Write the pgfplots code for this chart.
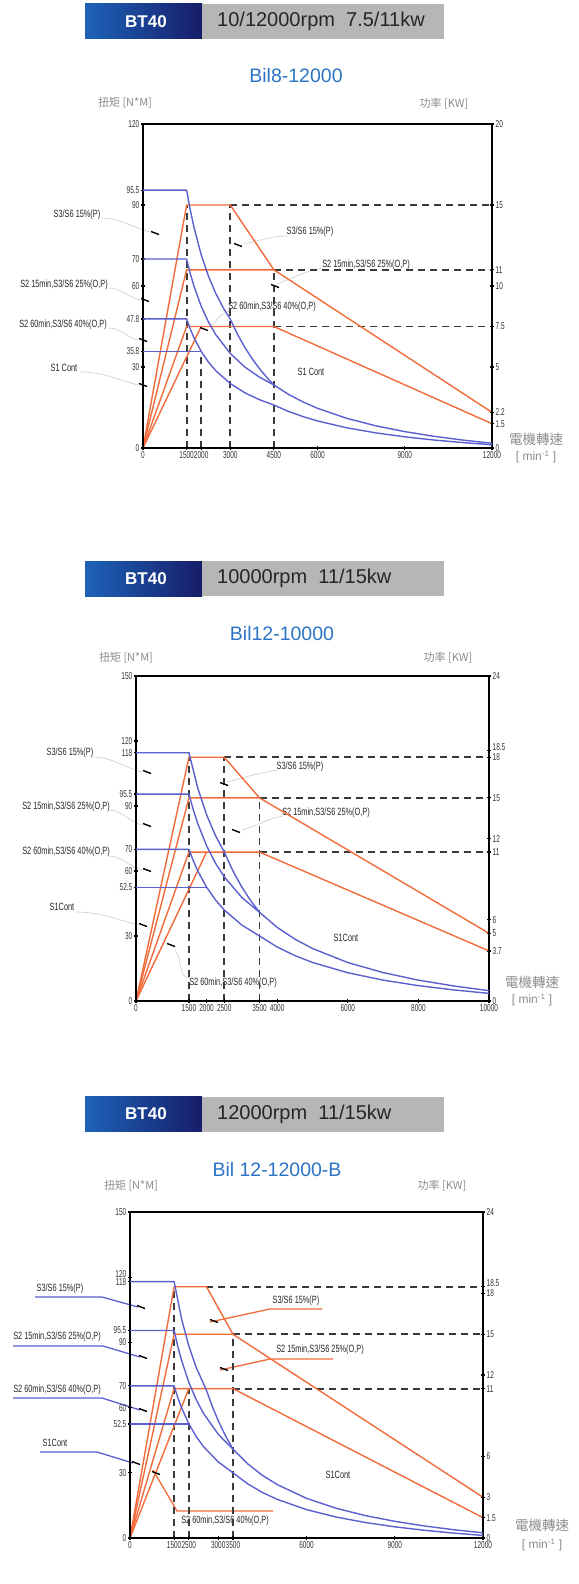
\documentclass[border=0pt]{standalone}
\usepackage{pgfplots}
\pgfplotsset{compat=1.18}
\usepackage{fontspec}
\setmainfont{Liberation Sans}
\newfontfamily\narrow[FakeStretch=0.7]{Liberation Sans}
\newfontfamily\narrowb[FakeStretch=0.65]{Liberation Sans}
\newfontfamily\cjk{Noto Sans CJK TC}
\definecolor{orng}{HTML}{F26B3A}
\definecolor{blu}{HTML}{5C60CF}
\definecolor{dsh}{HTML}{3A3A3A}
\definecolor{hblue}{HTML}{1D62B8}
\definecolor{hnavy}{HTML}{171D69}
\definecolor{hgray}{HTML}{B6B6B6}
\definecolor{ttl}{HTML}{2C74C5}
\definecolor{gtxt}{HTML}{8C8C8C}
\definecolor{lead}{HTML}{D2D2D2}
\newcommand\tickf{\narrowb\fontsize{10}{10}\selectfont}
\newcommand\labf{\narrow\fontsize{10.5}{10.5}\selectfont}
\pgfplotsset{
 base/.style={scale only axis, clip=false, scaled ticks=false,
   axis line style={black, line width=1.6pt},
   tick style={black, line width=1.2pt}, major tick length=4pt, tick align=center,
   ticklabel style={font=\tickf, text=black!80, inner sep=1.5pt},
   /pgf/number format/assume math mode=true},
 pw/.style={base, axis x line=none, axis y line*=right, ymin=0},
 tq/.style={base, tick pos=left, ymin=0},
 or/.style={orng, line width=1.4pt, line join=round},
 bl/.style={blu, line width=1.4pt, line join=round},
 ds/.style={dsh, line width=1.8pt, dash pattern=on 7pt off 5pt},
}
\newcommand\mk[2]{\draw[black, line width=1.4pt] (#1-4,#2-1.5) -- (#1+4,#2+1.5);}
\newcommand\lab[3]{\node[font=\labf, text=black!85, inner sep=0] at (#1,#2) {#3};}
\newcommand\header[3]{%
 \shade[left color=hblue, right color=hnavy] (85,#1-17.5) rectangle (202,#1+17.5);
 \fill[hgray] (202,#1-17.5) rectangle (444,#1+17.5);
 \node[white, font=\fontsize{17}{17}\selectfont\bfseries] at (146,#1) {BT40};
 \node[black!85, font=\fontsize{20}{20}\selectfont, anchor=west, inner sep=0] at (217,#1) {#3};}
\begin{document}
\begin{tikzpicture}
\useasboundingbox (0,0) rectangle (578pt,-1584pt);
\fill[white] (0,0) rectangle (578pt,-1584pt);
\begin{scope}[x=1pt,y=-1pt]
% ---------- panel 1 decorations
\header{21.5}{}{10/12000rpm\ \ 7.5/11kw}
\node[ttl, font=\fontsize{19.5}{19.5}\selectfont] at (296,76) {Bil8-12000};
\node[gtxt, font=\cjk\fontsize{11}{11}\selectfont] at (125,103) {扭矩 [N*M]};
\node[gtxt, font=\cjk\fontsize{11}{11}\selectfont] at (444,104) {功率 [KW]};
\node[gtxt, font=\cjk\fontsize{13.5}{13.5}\selectfont] at (536,439) {電機轉速};
\node[gtxt, font=\fontsize{12}{12}\selectfont] at (536,457) {[ min\textsuperscript{-1} ]};
\draw[lead, line width=0.7pt] (100,218) to[out=0,in=165] (150,232);
\draw[lead, line width=0.7pt] (108,288) to[out=0,in=165] (140,300);
\draw[lead, line width=0.7pt] (108,328) to[out=0,in=165] (138,340);
\draw[lead, line width=0.7pt] (80,372) to[out=0,in=165] (138,385);
\draw[lead, line width=0.7pt] (243,244) to[out=10,in=180] (288,236);
\draw[lead, line width=0.7pt] (277,284) to[out=20,in=190] (323,268);
\draw[lead, line width=0.7pt] (210,327) to[out=40,in=190] (230,311);
\lab{77}{215}{S3/S6 15\%(P)}
\lab{64}{285}{S2 15min,S3/S6 25\%(O,P)}
\lab{63}{325}{S2 60min,S3/S6 40\%(O,P)}
\lab{64}{368}{S1 Cont}
\lab{310}{232}{S3/S6 15\%(P)}
\lab{366}{265}{S2 15min,S3/S6 25\%(O,P)}
\lab{272}{307}{S2 60min,S3/S6 40\%(O,P)}
\lab{311}{372}{S1 Cont}
% ---------- panel 2 decorations
\header{578.5}{}{10000rpm\ \ 11/15kw}
\node[ttl, font=\fontsize{19.5}{19.5}\selectfont] at (282,634) {Bil12-10000};
\node[gtxt, font=\cjk\fontsize{11}{11}\selectfont] at (126,658) {扭矩 [N*M]};
\node[gtxt, font=\cjk\fontsize{11}{11}\selectfont] at (448,658) {功率 [KW]};
\node[gtxt, font=\cjk\fontsize{13.5}{13.5}\selectfont] at (532,982) {電機轉速};
\node[gtxt, font=\fontsize{12}{12}\selectfont] at (532,1000) {[ min\textsuperscript{-1} ]};
\draw[lead, line width=0.7pt] (92,757) to[out=0,in=165] (142,772);
\draw[lead, line width=0.7pt] (108,810) to[out=0,in=165] (142,825);
\draw[lead, line width=0.7pt] (108,856) to[out=0,in=165] (142,870);
\draw[lead, line width=0.7pt] (75,912) to[out=0,in=165] (138,925);
\draw[lead, line width=0.7pt] (227,782) to[out=15,in=190] (277,770);
\draw[lead, line width=0.7pt] (242,830) to[out=15,in=190] (283,816);
\draw[lead, line width=0.7pt] (175,950) to[out=-50,in=180] (190,978);
\lab{70}{753}{S3/S6 15\%(P)}
\lab{66}{807}{S2 15min,S3/S6 25\%(O,P)}
\lab{66}{852}{S2 60min,S3/S6 40\%(O,P)}
\lab{62}{907}{S1Cont}
\lab{300}{767}{S3/S6 15\%(P)}
\lab{326}{813}{S2 15min,S3/S6 25\%(O,P)}
\lab{233}{983}{S2 60min,S3/S6 40\%(O,P)}
\lab{346}{938}{S1Cont}
% ---------- panel 3 decorations
\header{1114}{}{12000rpm\ \ 11/15kw}
\node[ttl, font=\fontsize{19.5}{19.5}\selectfont] at (277,1170) {Bil 12-12000-B};
\node[gtxt, font=\cjk\fontsize{11}{11}\selectfont] at (131,1186) {扭矩 [N*M]};
\node[gtxt, font=\cjk\fontsize{11}{11}\selectfont] at (442,1186) {功率 [KW]};
\node[gtxt, font=\cjk\fontsize{13.5}{13.5}\selectfont] at (542,1525) {電機轉速};
\node[gtxt, font=\fontsize{12}{12}\selectfont] at (542,1545) {[ min\textsuperscript{-1} ]};
\draw[blu, line width=1.3pt] (35,1297) -- (102,1297) -- (138,1307);
\draw[blu, line width=1.3pt] (13,1346) -- (103,1346) -- (140,1357);
\draw[blu, line width=1.3pt] (13,1398) -- (102,1398) -- (140,1410);
\draw[blu, line width=1.3pt] (40,1452) -- (97,1452) -- (133,1463);
\draw[orng, line width=1.3pt] (210,1322) -- (270,1309) -- (322,1309);
\draw[orng, line width=1.3pt] (220,1370) -- (270,1359) -- (333,1359);
\draw[orng, line width=1.3pt] (153,1470) -- (177,1511) -- (273,1511);
\lab{60}{1289}{S3/S6 15\%(P)}
\lab{57}{1337}{S2 15min,S3/S6 25\%(O,P)}
\lab{57}{1390}{S2 60min,S3/S6 40\%(O,P)}
\lab{55}{1443}{S1Cont}
\lab{296}{1301}{S3/S6 15\%(P)}
\lab{320}{1350}{S2 15min,S3/S6 25\%(O,P)}
\lab{225}{1521}{S2 60min,S3/S6 40\%(O,P)}
\lab{338}{1475}{S1Cont}
\end{scope}
% ================= PANEL 1 =================
\begin{axis}[pw, at={(143pt,-448pt)}, anchor=south west, width=349pt, height=324pt,
  xmin=0, xmax=12000, ymax=20,
  ytick={0,1.5,2.2,5,7.5,10,11,15,20}, yticklabels={0,1.5,2.2,5,7.5,10,11,15,20}]
\addplot[ds] coordinates {(1500,0)(1500,15)};
\addplot[ds] coordinates {(2000,0)(2000,5.97)};
\addplot[ds] coordinates {(3000,0)(3000,15)};
\addplot[ds] coordinates {(4500,0)(4500,11)};
\addplot[ds] coordinates {(3000,15)(12000,15)};
\addplot[ds] coordinates {(4500,11)(12000,11)};
\addplot[ds] coordinates {(4500,7.5)(12000,7.5)};
\addplot[or] coordinates {(0,0)(1500,15)(3000,15)(4500,11)(12000,2.2)};
\addplot[or] coordinates {(0,0)(1500,11)(4500,11)};
\addplot[or] coordinates {(0,0)(1500,7.5)(4500,7.5)(12000,1.5)};
\addplot[or] coordinates {(0,0)(2000,7.5)};
\end{axis}
\begin{axis}[tq, at={(143pt,-448pt)}, anchor=south west, width=349pt, height=324pt,
  xmin=0, xmax=12000, ymax=120,
  xtick={0,1500,2000,3000,4500,6000,9000,12000}, xticklabels={0,1500,2000,3000,4500,6000,9000,12000},
  ytick={0,30,35.8,47.8,60,70,90,95.5,120}, yticklabels={0,30,35.8,47.8,60,70,90,95.5,120}]
\addplot[bl] coordinates {(0,95.5)(1500,95.5)(1625,88.15)(1750,81.86)(2000,71.63)(2250,63.67)(2500,57.30)(2750,52.09)(3000,47.75)(3250,42.12)(3500,37.29)(3750,33.11)(4000,29.45)(4250,26.22)(4500,23.34)(5000,19.89)(5500,17.06)(6000,14.71)(7000,11.01)(8000,8.23)(9000,6.07)(10000,4.34)(11000,2.93)(12000,1.75)};
\addplot[bl] coordinates {(0,70)(1500,70)(1625,64.64)(1750,60.03)(2000,52.53)(2250,46.69)(2500,42.02)(3000,35.02)(3500,30.01)(4000,26.26)(4500,23.34)};
\addplot[bl] coordinates {(0,47.8)(1500,47.8)(1625,44.08)(1750,40.93)(2000,35.81)(2250,31.83)(2500,28.65)(3000,23.88)(3500,20.46)(4000,17.91)(4500,15.92)(5000,13.56)(5500,11.63)(6000,10.03)(7000,7.50)(8000,5.61)(9000,4.14)(10000,2.96)(11000,2.00)(12000,1.19)};
\addplot[bl] coordinates {(0,35.8)(2000,35.8)};
\end{axis}
% ================= PANEL 2 =================
\begin{axis}[pw, at={(136pt,-1001pt)}, anchor=south west, width=353pt, height=325pt,
  xmin=0, xmax=10000, ymax=24,
  ytick={0,3.7,5,6,11,12,15,18,24}, yticklabels={0,3.7,5,6,11,12,15,18,24},
  extra y ticks={18.5}, extra y tick labels={18.5},
  extra y tick style={yticklabel style={yshift=3pt}}]
\addplot[ds] coordinates {(1500,0)(1500,18)};
\addplot[ds] coordinates {(2500,0)(2500,18)};
\addplot[ds] coordinates {(3500,0)(3500,15)};
\addplot[ds] coordinates {(2500,18)(10000,18)};
\addplot[ds] coordinates {(3500,15)(10000,15)};
\addplot[ds] coordinates {(3500,11)(10000,11)};
\addplot[or] coordinates {(0,0)(1500,18)(2500,18)(3500,15)(10000,5)};
\addplot[or] coordinates {(0,0)(1500,15)(3500,15)};
\addplot[or] coordinates {(0,0)(1500,11)(3500,11)(10000,3.7)};
\addplot[or] coordinates {(0,0)(2000,11)};
\end{axis}
\begin{axis}[tq, at={(136pt,-1001pt)}, anchor=south west, width=353pt, height=325pt,
  xmin=0, xmax=10000, ymax=150,
  xtick={0,1500,2000,2500,3500,4000,6000,8000,10000}, xticklabels={0,1500,2000,2500,3500,4000,6000,8000,10000},
  ytick={0,30,52.5,60,70,90,95.5,114.6,120,150}, yticklabels={0,30,52.5,60,70,90,95.5,118,120,150}]
\addplot[bl] coordinates {(0,114.6)(1500,114.6)(1750,98.23)(2000,85.95)(2250,76.40)(2500,68.76)(2750,59.90)(3000,52.53)(3250,46.28)(3500,40.93)(4000,33.98)(4500,28.57)(5000,24.24)(6000,17.75)(7000,13.12)(8000,9.64)(9000,6.94)(10000,4.78)};
\addplot[bl] coordinates {(0,95.5)(1500,95.5)(1625,88.15)(1750,81.86)(2000,71.63)(2250,63.67)(2500,57.30)(3000,47.75)(3500,40.93)};
\addplot[bl] coordinates {(0,70)(1500,70)(1625,64.64)(1750,60.03)(2000,52.53)(2250,46.69)(2500,42.02)(3000,35.02)(3500,30.01)(4000,24.92)(4500,20.96)(5000,17.79)(6000,13.04)(7000,9.64)(8000,7.10)(9000,5.12)(10000,3.53)};
\addplot[bl] coordinates {(0,52.5)(2000,52.5)};
\end{axis}
% ================= PANEL 3 =================
\begin{axis}[pw, at={(130pt,-1538pt)}, anchor=south west, width=353pt, height=326pt,
  xmin=0, xmax=12000, ymax=24,
  ytick={0,1.5,3,6,11,12,15,18,24}, yticklabels={0,1.5,3,6,11,12,15,18,24},
  extra y ticks={18.5}, extra y tick labels={18.5},
  extra y tick style={yticklabel style={yshift=3.5pt}}]
\addplot[ds] coordinates {(1500,0)(1500,18.5)};
\addplot[ds] coordinates {(2000,0)(2000,11)};
\addplot[ds] coordinates {(3500,0)(3500,15)};
\addplot[ds] coordinates {(2600,18.5)(12000,18.5)};
\addplot[ds] coordinates {(3500,15)(12000,15)};
\addplot[ds] coordinates {(3500,11)(12000,11)};
\addplot[or] coordinates {(0,0)(1500,18.5)(2600,18.5)(3500,15)(12000,3)};
\addplot[or] coordinates {(0,0)(1500,15)(3500,15)};
\addplot[or] coordinates {(0,0)(1500,11)(3500,11)(12000,1.5)};
\addplot[or] coordinates {(0,0)(2000,11)};
\end{axis}
\begin{axis}[tq, at={(130pt,-1538pt)}, anchor=south west, width=353pt, height=326pt,
  xmin=0, xmax=12000, ymax=150,
  xtick={0,1500,2000,3000,3500,6000,9000,12000}, xticklabels={0,1500,2500,3000,3500,6000,9000,12000},
  ytick={0,30,52.5,60,70,90,95.5,118,150}, yticklabels={0,30,52.5,60,70,90,95.5,118,150},
  extra y ticks={120}, extra y tick labels={120},
  extra y tick style={yticklabel style={yshift=3pt}}]
\addplot[bl] coordinates {(0,118)(1500,118)(1750,100.96)(2000,88.34)(2250,78.52)(2600,67.95)(2800,60.45)(3000,53.94)(3250,46.93)(3500,40.93)(4000,34.13)(4500,28.84)(5000,24.61)(6000,18.26)(7000,13.72)(8000,10.32)(9000,7.68)(10000,5.56)(11000,3.83)(12000,2.39)};
\addplot[bl] coordinates {(0,95.5)(1500,95.5)(1625,88.15)(1750,81.86)(2000,71.63)(2250,63.67)(2500,57.30)(3000,47.75)(3500,40.93)};
\addplot[bl] coordinates {(0,70)(1500,70)(1625,64.64)(1750,60.03)(2000,52.53)(2250,46.69)(2500,42.02)(3000,35.02)(3500,30.01)(4000,24.93)(4500,20.97)(5000,17.81)(6000,13.06)(7000,9.67)(8000,7.13)(9000,5.15)(10000,3.57)(11000,2.27)(12000,1.19)};
\addplot[bl] coordinates {(0,52.5)(2000,52.5)};
\end{axis}
% marks on top
\begin{scope}[x=1pt,y=-1pt]
\mk{155}{233}\mk{145}{300}\mk{143}{340}\mk{143}{385}
\mk{238}{245}\mk{275}{286}\mk{204}{329}
\mk{147}{772}\mk{147}{825}\mk{147}{870}\mk{143}{925}
\mk{224}{784}\mk{236}{831}\mk{171}{945}
\mk{141}{1307}\mk{143}{1357}\mk{143}{1410}\mk{136}{1463}
\mk{214}{1321}\mk{224}{1369}\mk{156}{1473}
\end{scope}
\end{tikzpicture}
\end{document}
